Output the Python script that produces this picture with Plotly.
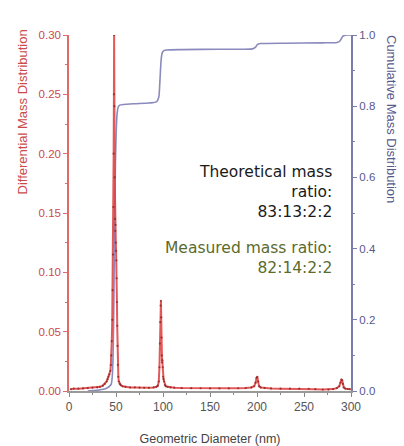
import plotly.graph_objects as go

# Differential mass distribution (left axis)
diff_x = [2, 5, 10, 15, 20, 25, 30, 33, 36, 38, 40, 41, 42, 43, 44, 44.5, 45, 45.5, 46, 46.4,
          46.8, 47.2, 47.5, 47.8, 48.0, 48.3, 48.6, 48.9, 49.2, 49.5, 49.8, 50.1, 50.4, 50.7,
          51.0, 51.3, 51.6, 52.0, 52.5, 53.0, 54, 55, 57, 60, 65, 70, 75, 80, 85, 90, 93,
          94.5, 95.5, 96.2, 96.7, 97.1, 97.5, 97.8, 98.1, 98.4, 98.7, 99.0, 99.3, 99.7, 100.1,
          100.6, 101.2, 102, 103, 105, 108, 112, 120, 130, 140, 150, 160, 170, 180, 188, 194,
          197, 198.5, 199.5, 200.3, 201.2, 202.2, 204, 208, 215, 225, 235, 245, 255, 262, 270,
          276, 281, 285, 287.5, 288.8, 289.8, 290.6, 291.4, 292.3, 294, 296.5, 299]
diff_y = [0.0015, 0.002, 0.002, 0.0022, 0.0025, 0.0028, 0.003, 0.0035, 0.0045, 0.006, 0.008,
          0.010, 0.012, 0.014, 0.017, 0.022, 0.030, 0.042, 0.060, 0.085,
          0.115, 0.155, 0.20, 0.25, 0.300, 0.24, 0.18, 0.145, 0.135, 0.140, 0.125, 0.118, 0.110, 0.095,
          0.075, 0.055, 0.038, 0.022, 0.012, 0.008, 0.006, 0.005, 0.004, 0.0035, 0.003, 0.003, 0.0028, 0.0027, 0.0027, 0.003, 0.0035,
          0.0045, 0.008, 0.020, 0.040, 0.058, 0.072, 0.076, 0.062, 0.045, 0.030, 0.024, 0.026, 0.020, 0.012,
          0.010, 0.008, 0.005, 0.004, 0.0035, 0.003, 0.0028, 0.0025, 0.0024, 0.0023, 0.0022, 0.0022, 0.0022, 0.0023, 0.0025, 0.003,
          0.004, 0.007, 0.011, 0.012, 0.008, 0.004, 0.003, 0.0025, 0.0022, 0.002, 0.002, 0.002, 0.0018, 0.0015, 0.0012,
          0.0012, 0.0016, 0.0025, 0.004, 0.007, 0.0095, 0.009, 0.006, 0.003, 0.002, 0.0017, 0.0015]

# Cumulative mass distribution (right axis)
cum_x = [20, 25, 30, 35, 40, 43, 45, 46, 46.8, 47.5, 48.2, 48.8, 49.4, 50, 50.6, 51.3, 52.2, 54,
         58, 70, 85, 93, 95.5, 96.5, 97.3, 98, 98.8, 99.8, 101, 104, 120, 160, 195, 198.5, 200,
         201.5, 204, 230, 270, 285, 288.5, 290, 291.5, 293, 296, 300]
cum_y = [0, 0.001, 0.002, 0.004, 0.008, 0.013, 0.02, 0.04, 0.09, 0.2, 0.38, 0.53, 0.64, 0.71,
         0.755, 0.782, 0.797, 0.803, 0.805, 0.807, 0.809, 0.812, 0.825, 0.86, 0.9, 0.93, 0.946, 0.953,
         0.956, 0.958, 0.959, 0.96, 0.961, 0.966, 0.972, 0.975, 0.976, 0.977, 0.978, 0.979, 0.984,
         0.991, 0.997, 0.999, 1.0, 1.0]

x_ticks = [0, 50, 100, 150, 200, 250, 300]
left_ticks = [0.00, 0.05, 0.10, 0.15, 0.20, 0.25, 0.30]
right_ticks = [0.0, 0.2, 0.4, 0.6, 0.8, 1.0]

RED_AX = "#e06a6a"
RED_TXT = "#cc4a4a"
BLUE_AX = "#7c7cac"
BLUE_TXT = "#58588c"
FONT = "Liberation Sans Narrow, Liberation Sans, Arial, sans-serif"

fig = go.Figure()
fig.add_trace(go.Scatter(
    x=cum_x, y=cum_y, mode="lines", yaxis="y",
    line=dict(color="#8a8abd", width=1.6, shape="spline", smoothing=0.6),
    showlegend=False, hoverinfo="skip"))
fig.add_trace(go.Scatter(
    x=diff_x, y=diff_y, mode="lines+markers", yaxis="y2",
    line=dict(color="rgba(222,60,60,0.85)", width=2),
    marker=dict(color="rgba(140,30,30,0.75)", size=2.2),
    showlegend=False, hoverinfo="skip"))

L, R, T, B = 69, 53, 35, 55
W, H = 404, 446

fig.update_layout(
    width=W, height=H,
    margin=dict(l=L, r=R, t=T, b=B, pad=0, autoexpand=False),
    paper_bgcolor="white", plot_bgcolor="white",
    font=dict(family=FONT, size=11, color="#444"),
    xaxis=dict(range=[0, 300], tickvals=x_ticks, ticks="outside", ticklen=4, tickcolor="#888",
               showline=True, linecolor="#999", linewidth=1.5, showgrid=False, zeroline=False,
               automargin=False,
               tickfont=dict(size=12, color="#555", family=FONT),
               minor=dict(dtick=25, ticks="outside", ticklen=2, tickcolor="#888"),
               title=dict(text="Geometric Diameter (nm)", font=dict(size=12.5, color="#444", family=FONT), standoff=22)),
    yaxis=dict(range=[0, 1], side="right", tickvals=right_ticks, tickformat=".1f",
               ticks="outside", ticklen=4, tickcolor=BLUE_AX, automargin=False,
               showline=True, linecolor=BLUE_AX, linewidth=2, showgrid=False, zeroline=False,
               tickfont=dict(size=11.5, color=BLUE_TXT, family=FONT),
               minor=dict(dtick=0.1, ticks="outside", ticklen=2, tickcolor=BLUE_AX)),
    yaxis2=dict(range=[0, 0.30], side="left", overlaying="y", tickvals=left_ticks, tickformat=".2f",
                ticks="outside", ticklen=4, tickcolor=RED_AX, automargin=False,
                showline=True, linecolor=RED_AX, linewidth=1.5, showgrid=False, zeroline=False,
                tickfont=dict(size=11.5, color=RED_TXT, family=FONT),
                minor=dict(dtick=0.025, ticks="outside", ticklen=2, tickcolor=RED_AX)),
)

def px2x(p):
    return (p - L) / (W - L - R)

def py2y(p):
    return (H - B - p) / (H - T - B)

fig.add_annotation(xref="paper", yref="paper", x=px2x(22), y=py2y(28), xanchor="center", yanchor="top",
                   text="Differential Mass Distribution", textangle=-90, showarrow=False,
                   font=dict(size=13, color=RED_TXT, family=FONT))
fig.add_annotation(xref="paper", yref="paper", x=px2x(392), y=py2y(33), xanchor="center", yanchor="top",
                   text="Cumulative Mass Distribution", textangle=90, showarrow=False,
                   font=dict(size=13, color=BLUE_TXT, family=FONT))
fig.add_annotation(xref="paper", yref="paper", x=px2x(334), y=py2y(192), xanchor="right", yanchor="middle",
                   align="right", showarrow=False,
                   text="Theoretical mass<br>ratio:<br>83:13:2:2",
                   font=dict(size=15.5, color="#1a1a1a", family="DejaVu Sans, Verdana, sans-serif"))
fig.add_annotation(xref="paper", yref="paper", x=px2x(334), y=py2y(257.5), xanchor="right", yanchor="middle",
                   align="right", showarrow=False,
                   text="Measured mass ratio:<br>82:14:2:2",
                   font=dict(size=15.5, color="#5b6b2e", family="DejaVu Sans, Verdana, sans-serif"))

fig.write_html("out.html", config={"displayModeBar": False},
               post_script="document.body.style.margin='0';document.body.style.overflow='hidden';")
